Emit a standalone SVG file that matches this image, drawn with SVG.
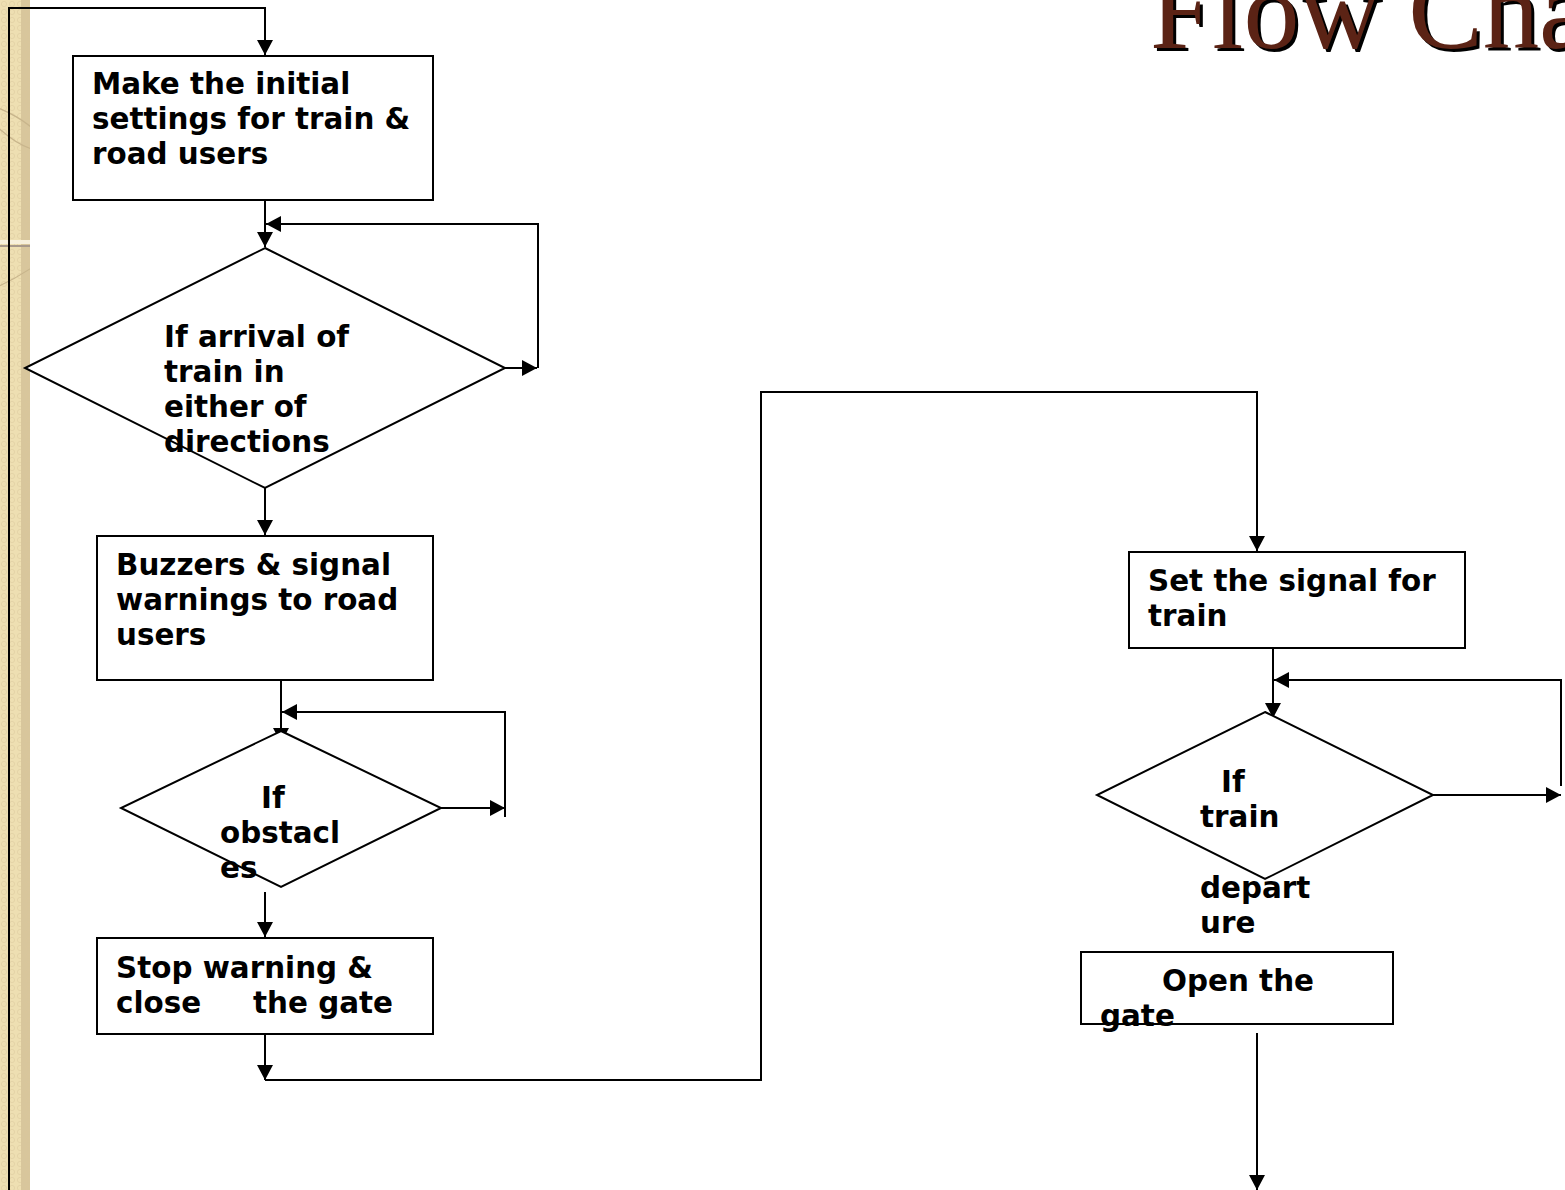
<svg xmlns="http://www.w3.org/2000/svg" width="1565" height="1190" viewBox="0 0 1565 1190">
<style>
.box{fill:#fff;stroke:#000;stroke-width:2}
.dia{fill:#fff;stroke:#000;stroke-width:2}
.t{font-family:"DejaVu Sans","Verdana",sans-serif;font-weight:bold;font-size:29.4px;fill:#000}
.c{fill:none;stroke:#000;stroke-width:2}
.ttl{font-family:"Liberation Serif","Times New Roman",serif;font-size:112px}
</style>
<defs>
<marker id="ah" viewBox="0 -8 15 16" refX="15" refY="0" markerWidth="15" markerHeight="16" markerUnits="userSpaceOnUse" orient="auto">
<path d="M0,-8 L15,0 L0,8 z" fill="#000"/>
</marker>
<pattern id="dots" width="8" height="8" patternUnits="userSpaceOnUse">
<circle cx="4" cy="4" r="2.6" fill="none" stroke="#D9C79A" stroke-width="0.8"/>
</pattern>
<clipPath id="band"><rect x="0" y="0" width="30" height="1190"/></clipPath>
</defs>

<g id="background">
<rect x="0" y="0" width="1565" height="1190" fill="#fff"/>
<g clip-path="url(#band)">
<rect x="0" y="0" width="30" height="1190" fill="#EEDFB2"/>
<rect x="21" y="0" width="9" height="1190" fill="#D8C69C"/>
<rect x="0" y="0" width="30" height="1190" fill="url(#dots)" opacity="0.6"/>
<path d="M-10,105 Q20,115 40,135" fill="none" stroke="#C8B58C" stroke-width="1.2"/>
<path d="M-10,120 Q20,150 40,150" fill="none" stroke="#C8B58C" stroke-width="1.2"/>
<path d="M-10,290 Q15,280 40,262" fill="none" stroke="#C8B58C" stroke-width="1.2"/>
<rect x="0" y="240" width="30" height="4" fill="#F7F0DC"/>
<rect x="0" y="245" width="30" height="2" fill="#A8998A"/>
</g>
</g>

<g id="title">
<text class="ttl" x="1153" y="51" fill="#000">Flow Chart</text>
<text class="ttl" x="1150" y="48" fill="#5B2315">Flow Chart</text>
</g>

<g id="connectors">
<path class="c" d="M9,1190 V8 H265 V55" marker-end="url(#ah)"/>
<path class="c" d="M265,200 V247" marker-end="url(#ah)"/>
<path class="c" d="M505,368 H537" marker-end="url(#ah)"/>
<path class="c" d="M538,368 V224 H266" marker-end="url(#ah)"/>
<path class="c" d="M265,488 V535" marker-end="url(#ah)"/>
<path class="c" d="M281,680 V743" marker-end="url(#ah)"/>
<path class="c" d="M505,817 V712 H282" marker-end="url(#ah)"/>
<path class="c" d="M441,808 H505" marker-end="url(#ah)"/>
<path class="c" d="M265,892 V937" marker-end="url(#ah)"/>
<path class="c" d="M265,1034 V1080" marker-end="url(#ah)"/>
<path class="c" d="M265,1080 H761 V392 H1257 V551" marker-end="url(#ah)"/>
<path class="c" d="M1273,648 V718" marker-end="url(#ah)"/>
<path class="c" d="M1561,786 V680 H1274" marker-end="url(#ah)"/>
<path class="c" d="M1433,795 H1561" marker-end="url(#ah)"/>
<path class="c" d="M1257,1033 V1190" marker-end="url(#ah)"/>
</g>

<g id="n1">
<rect class="box" x="73" y="56" width="360" height="144"/>
<text class="t" x="92" y="94">Make the initial</text>
<text class="t" x="92" y="129">settings for train &amp;</text>
<text class="t" x="92" y="164">road users</text>
</g>

<g id="n2">
<polygon class="dia" points="265,248 505,368 265,488 25,368"/>
<text class="t" x="164" y="347">If arrival of</text>
<text class="t" x="164" y="382">train in</text>
<text class="t" x="164" y="417">either of</text>
<text class="t" x="164" y="452">directions</text>
</g>

<g id="n3">
<rect class="box" x="97" y="536" width="336" height="144"/>
<text class="t" x="116" y="575">Buzzers &amp; signal</text>
<text class="t" x="116" y="610">warnings to road</text>
<text class="t" x="116" y="645">users</text>
</g>

<g id="n4">
<polygon class="dia" points="281,731 441,808 281,887 121,808"/>
<text class="t" x="261" y="808">If</text>
<text class="t" x="220" y="843">obstacl</text>
<text class="t" x="220" y="878">es</text>
</g>

<g id="n5">
<rect class="box" x="97" y="938" width="336" height="96"/>
<text class="t" x="116" y="978">Stop warning &amp;</text>
<text class="t" x="116" y="1013">close</text>
<text class="t" x="253" y="1013">the gate</text>
</g>

<g id="n6">
<rect class="box" x="1129" y="552" width="336" height="96"/>
<text class="t" x="1148" y="591">Set the signal for</text>
<text class="t" x="1148" y="626">train</text>
</g>

<g id="n7">
<polygon class="dia" points="1265,712 1433,795 1265,879 1097,795"/>
<text class="t" x="1221" y="792">If</text>
<text class="t" x="1200" y="827">train</text>
<text class="t" x="1200" y="898">depart</text>
<text class="t" x="1200" y="933">ure</text>
</g>

<g id="n8">
<rect class="box" x="1081" y="952" width="312" height="72"/>
<text class="t" x="1162" y="991">Open the</text>
<text class="t" x="1100" y="1026">gate</text>
</g>
</svg>
